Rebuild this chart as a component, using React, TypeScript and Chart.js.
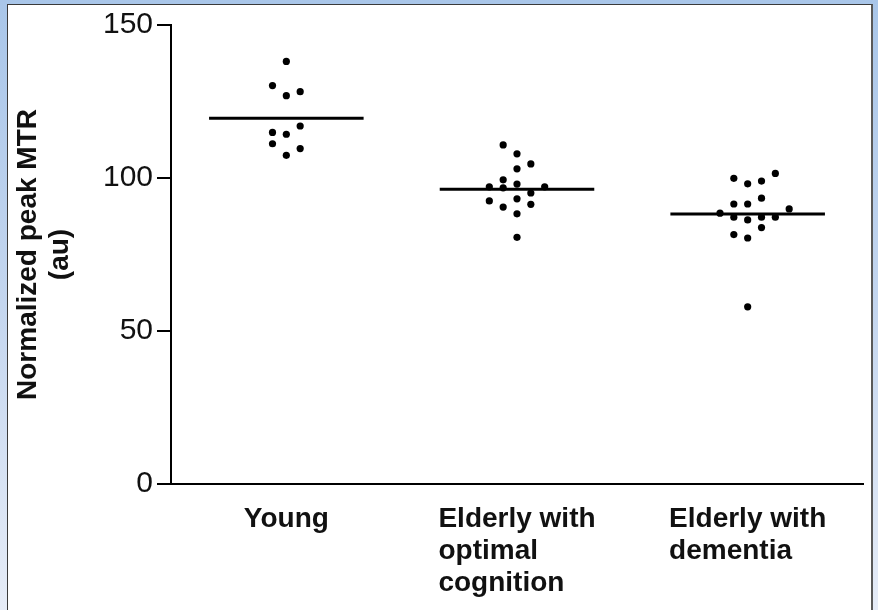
import React, { useEffect, useRef } from "react";
import { Chart, registerables } from "chart.js";

Chart.register(...registerables);

// ---- data ----
const categories: string[][] = [
  ["Young"],
  ["Elderly with", "optimal", "cognition"],
  ["Elderly with", "dementia"],
];

const youngValues = [138.1, 130.2, 128.2, 126.9, 117.0, 114.9, 114.3, 111.2, 109.6, 107.4];
const youngSlots = [0, -1, 1, 0, 1, -1, 0, -1, 1, 0];

const optimalValues = [110.8, 107.9, 104.6, 103.0, 99.4, 98.0, 97.1, 96.8, 97.1, 95.1, 93.2, 92.5, 91.4, 90.5, 88.3, 80.6];
const optimalSlots = [-1, 0, 1, 0, -1, 0, -2, -1, 2, 1, 0, -2, 1, -1, 0, 0];

const dementiaValues = [101.5, 99.9, 99.0, 98.1, 93.4, 91.5, 91.5, 89.9, 88.5, 87.2, 87.2, 87.2, 86.3, 83.8, 81.5, 80.4, 57.9];
const dementiaSlots = [2, -1, 1, 0, 1, -1, 0, 3, -2, -1, 1, 2, 0, 1, -1, 0, 0];

const groupMeans = [119.5, 96.3, 88.2];

const yTicks = [0, 50, 100, 150];
const yTitle = ["Normalized peak MTR", "(au)"];

// ---- presentation constants ----
const SLOT_STEP = 0.06;
const MEAN_HALF = 0.335;
const FONT = '"Liberation Sans", Arial, Helvetica, sans-serif';

const groups = [
  { values: youngValues, slots: youngSlots },
  { values: optimalValues, slots: optimalSlots },
  { values: dementiaValues, slots: dementiaSlots },
];

const xLabelPlugin = {
  id: "xLabels",
  afterDraw(chart: any) {
    const { ctx, chartArea } = chart;
    const xs = chart.scales.x;
    ctx.save();
    ctx.font = `bold 28px ${FONT}`;
    ctx.fillStyle = "#111";
    ctx.textAlign = "left";
    ctx.textBaseline = "alphabetic";
    categories.forEach((lines, i) => {
      const cx = xs.getPixelForValue(i);
      const w = Math.max(...lines.map((l) => ctx.measureText(l).width));
      const left = cx - w / 2;
      lines.forEach((l, j) => ctx.fillText(l, left, chartArea.bottom + 43 + j * 32));
    });
    ctx.restore();
  },
};

export default function App() {
  const ref = useRef<HTMLCanvasElement | null>(null);

  useEffect(() => {
    if (!ref.current) return;
    Chart.defaults.font.family = FONT;

    const pointSets = groups.map((g, i) => ({
      label: categories[i].join(" "),
      data: g.values.map((v, k) => ({ x: i + g.slots[k] * SLOT_STEP, y: v })),
      backgroundColor: "#000",
      borderWidth: 0,
      pointRadius: 3.6,
      showLine: false,
    }));

    const meanSets = groupMeans.map((m, i) => ({
      label: "mean " + i,
      data: [
        { x: i - MEAN_HALF, y: m },
        { x: i + MEAN_HALF, y: m },
      ],
      borderColor: "#000",
      borderWidth: 3,
      pointRadius: 0,
      showLine: true,
    }));

    const chart = new Chart(ref.current, {
      type: "scatter",
      data: { datasets: [...meanSets, ...pointSets] as any },
      options: {
        animation: false,
        responsive: false,
        layout: { padding: { top: 25, right: 15, bottom: 0, left: 0 } },
        plugins: { legend: { display: false }, tooltip: { enabled: false } },
        scales: {
          x: {
            type: "linear",
            min: -0.5,
            max: 2.5,
            ticks: { display: false },
            grid: { display: false },
            border: { display: true, color: "#000", width: 2 },
            afterFit: (s: any) => {
              s.height = 126;
            },
          },
          y: {
            min: 0,
            max: 150,
            afterBuildTicks: (s: any) => {
              s.ticks = yTicks.map((v) => ({ value: v }));
            },
            afterFit: (s: any) => {
              s.width = 171;
            },
            ticks: {
              padding: 4,
              color: "#111",
              font: { size: 30, family: FONT },
            },
            grid: {
              display: true,
              drawOnChartArea: false,
              drawTicks: true,
              tickLength: 14,
              color: "#000",
              lineWidth: 2,
            },
            border: { display: true, color: "#000", width: 2 },
            title: {
              display: true,
              text: yTitle,
              color: "#111",
              font: { size: 28, weight: "bold", family: FONT, lineHeight: 1.15 },
              padding: { top: 12, bottom: 0 },
            },
          },
        },
      } as any,
      plugins: [xLabelPlugin],
    });
    return () => chart.destroy();
  }, []);

  return (
    <div
      style={{
        position: "fixed",
        left: 0,
        top: 0,
        width: 878,
        height: 610,
        overflow: "hidden",
        background: "linear-gradient(to bottom, #a9c6e9 0%, #c4d6ef 50%, #e6ecf7 100%)",
      }}
    >
      <div
        style={{
          position: "absolute",
          left: 7,
          top: 4,
          width: 866,
          height: 640,
          boxSizing: "border-box",
          background: "#fff",
          borderLeft: "1px solid #3a3a3a",
          borderTop: "1px solid #3a3a3a",
          borderRight: "2px solid #5a5a5a",
        }}
      />
      <canvas
        ref={ref}
        width={878}
        height={610}
        style={{ position: "absolute", left: 0, top: 0, width: 878, height: 610 }}
      />
    </div>
  );
}
